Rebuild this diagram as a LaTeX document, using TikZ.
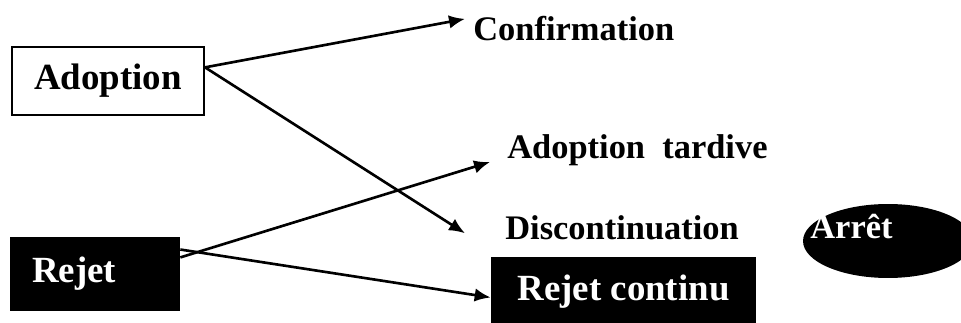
\documentclass[tikz,border=0pt]{standalone}
\usepackage{fontspec}
\setmainfont{Liberation Serif}
\usetikzlibrary{arrows.meta, shapes.geometric}

\begin{document}
\begin{tikzpicture}[x=0.02cm, y=-0.02cm,
    big/.style={font=\fontsize{21}{25}\selectfont\bfseries},
    small/.style={font=\fontsize{19.6}{23}\selectfont\bfseries, inner sep=0pt},
    arr/.style={line width=1.5pt, -{Latex[length=0.32cm, width=0.27cm]}}]
    \useasboundingbox (0,0) rectangle (961,323);

    % boxes
    \node[big, draw, line width=1.2pt, fill=white, minimum width=3.84cm, minimum height=1.36cm] (adopt) at (108, 81) {Adoption};
    \node[big, fill=black, text=white, text width=2.52cm, inner xsep=0.44cm, minimum height=1.48cm, align=left] (rejet) at (95, 274) {Rejet};
    \node[big, fill=black, text=white, minimum width=5.3cm, minimum height=1.4cm] (rc) at (623.5, 292) {Rejet continu};
    \node[ellipse, fill=black, minimum width=3.4cm, minimum height=1.48cm, inner sep=0pt] (arret) at (888, 241) {};
    \node[small, text=white, anchor=base west] (arretlbl) at (810, 239) {Arrêt};

    % outcomes
    \node[small, anchor=base west] (conf) at (473, 41) {Confirmation};
    \node[small, anchor=base west] (tard) at (507, 159) {Adoption\ \ tardive};
    \node[small, anchor=base west] (disc) at (505, 240) {Discontinuation};

    \draw[arr] (adopt.8) -- ([xshift=-0.16cm, yshift=-0.05cm]conf.north west);
    \draw[arr] (adopt.8) -- ([xshift=-0.8cm, yshift=-0.1cm]disc.west);
    \draw[arr] (rejet.11) -- ([xshift=-0.34cm, yshift=-0.06cm]tard.base west);
    \draw[arr] (rejet.16) -- ([yshift=-0.11cm]rc.west);
\end{tikzpicture}
\end{document}
